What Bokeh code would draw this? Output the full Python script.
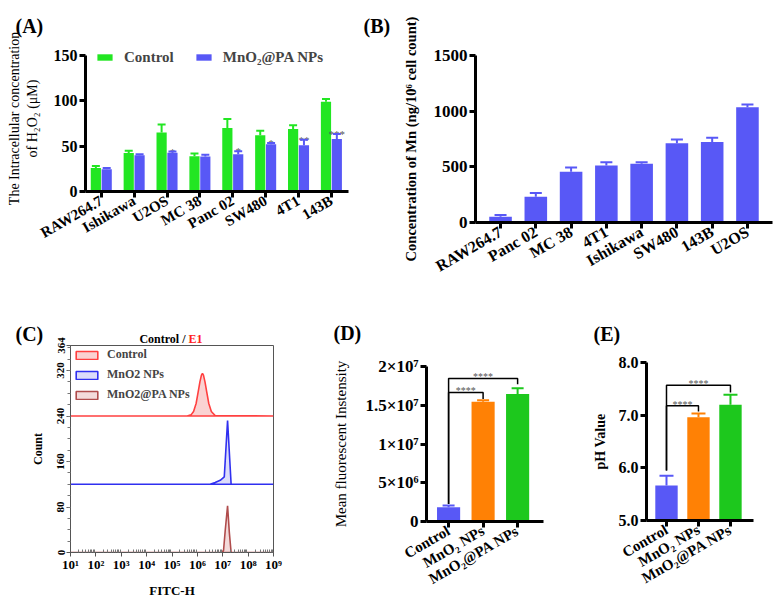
import numpy as np
from bokeh.plotting import figure
from bokeh.layouts import row, column
from bokeh.models import (Range1d, FixedTicker, Whisker, TeeHead, ColumnDataSource,
                          Legend, LegendItem, Label)
from bokeh.core.properties import value
from bokeh.embed import file_html
from bokeh.resources import INLINE

SERIF = "Liberation Serif"

# ---------------- data ----------------
# (A) intracellular H2O2
a_cells = ["RAW264.7", "Ishikawa", "U2OS", "MC 38", "Panc 02", "SW480", "4T1", "143B"]
a_ctrl = [26, 42.5, 65, 39, 70, 62, 69, 99]
a_ctrl_err = [28, 45, 74, 42, 80, 67, 73, 102]
a_np = [24.6, 40, 42.6, 38.5, 41, 52, 51, 58]
a_np_err = [26, 41, 44, 40.5, 44.5, 53.5, 57, 63.5]
a_sig = ["", "", "*", "", "*", "*", "**", "***"]
a_yticks = [0, 50, 100, 150]

# (B) Mn uptake
b_cells = ["RAW264.7", "Panc 02", "MC 38", "4T1", "Ishikawa", "SW480", "143B", "U2OS"]
b_mn = [51, 231, 456, 512, 527, 711, 723, 1035]
b_mn_err = [68, 264, 495, 542, 542, 745, 762, 1060]
b_yticks = [0, 500, 1000, 1500]

# (C) flow cytometry histograms (log10 of FITC-H, count)
c_ctrl_exp = [1, 5.6, 5.75, 5.85, 5.95, 6.03, 6.1, 6.16, 6.2, 6.24, 6.3, 6.37, 6.45, 6.55, 6.7, 9]
c_ctrl_cnt = [240, 240, 242, 248, 262, 282, 300, 312, 315, 312, 300, 282, 262, 248, 241, 240]
c_np_exp = [1, 6.5, 6.7, 6.9, 7.06, 7.19, 7.33, 9]
c_np_cnt = [120, 120, 123, 127, 133, 232, 120, 120]
c_pa_exp = [1, 6.92, 7.03, 7.1, 7.19, 7.26, 7.33, 9]
c_pa_cnt = [0, 0, 3, 40, 82, 35, 0, 0]
c_names = ["Control", "MnO2 NPs", "MnO2@PA NPs"]
c_yticks = [0, 80, 160, 240, 320, 364]
c_decades = [1, 2, 3, 4, 5, 6, 7, 8, 9]
c_dec_labels = ["10¹", "10²", "10³", "10⁴", "10⁵", "10⁶", "10⁷", "10⁸", "10⁹"]

# (D) mean fluorescent intensity
d_groups = ["Control", "MnO₂ NPs", "MnO₂@PA NPs"]
d_mean = [1.85e6, 1.545e7, 1.644e7]
d_err = [2.06e6, 1.566e7, 1.72e7]
d_yticks = [0, 5000000, 10000000, 15000000, 20000000]
d_ylabels = ["0", "5×10⁶", "1×10⁷", "1.5×10⁷", "2×10⁷"]
d_brk_to = [1, 2]
d_brk_top = [1.665e7, 1.845e7]
d_brk_end = [1.58e7, 1.77e7]
d_brk_start = 2.25e6

# (E) pH value
e_groups = ["Control", "MnO₂ NPs", "MnO₂@PA NPs"]
e_mean = [5.663, 6.96, 7.2]
e_err = [5.85, 7.03, 7.39]
e_yticks = [5, 6, 7, 8]
e_brk_to = [1, 2]
e_brk_top = [7.18, 7.57]
e_brk_end = [7.07, 7.43]
e_brk_start = 5.95

GREEN = "#22E622"
BLUE = "#5858F6"
ORANGE = "#FF8105"
GREEN2 = "#1DC81D"


def base_fig(width, height, xr, yr, mb, **kw):
    p = figure(width=width, height=height, x_range=Range1d(*xr), y_range=Range1d(*yr),
               output_backend="svg", toolbar_location=None, frame_align=False,
               min_border_left=mb[0], min_border_right=mb[1],
               min_border_top=mb[2], min_border_bottom=mb[3], **kw)
    p.grid.visible = False
    p.outline_line_color = None
    p.background_fill_color = "white"
    p.border_fill_color = "white"
    return p


def bar_axes(p, xfs, yfs):
    for ax in p.axis:
        ax.axis_line_width = 3
        ax.axis_line_color = "black"
        ax.major_tick_line_width = 3
        ax.major_tick_line_color = "black"
        ax.major_tick_out = 6
        ax.major_tick_in = 0
        ax.minor_tick_line_color = None
        ax.major_label_text_font = SERIF
        ax.major_label_text_font_style = "bold"
        ax.major_label_text_color = "black"
        ax.major_label_standoff = 2
        ax.axis_label_text_font = SERIF
        ax.axis_label_text_color = "black"
    p.xaxis.major_label_text_font_size = xfs
    p.yaxis.major_label_text_font_size = yfs
    p.xaxis.major_label_orientation = np.pi / 6


def ylabel(p, text, size, bold, standoff):
    p.yaxis.axis_label = text
    p.yaxis.axis_label_text_font = SERIF
    p.yaxis.axis_label_text_font_size = size
    p.yaxis.axis_label_text_font_style = "bold" if bold else "normal"
    p.yaxis.axis_label_standoff = standoff


def tag(p, x, y, text, size, align="left", color="black"):
    """free text in data coordinates, kept in the top side panel so it is not clipped"""
    p.add_layout(Label(x=x, y=y, text=text, text_font=SERIF, text_font_size=size,
                       text_font_style="bold", text_align=align, text_baseline="middle",
                       text_color=color), "above")


def whisk(p, xs, lo, hi, color, size):
    src = ColumnDataSource(dict(x=list(xs), lo=lo, hi=hi))
    w = Whisker(source=src, base="x", lower="lo", upper="hi", dimension="height",
                line_color=color, line_width=2,
                upper_head=TeeHead(size=size, line_color=color, line_width=2),
                lower_head=None, level="overlay")
    p.add_layout(w)


# ---------------- (A) ----------------
pA = base_fig(360, 290, (-0.48, 7.52), (0, 161), (85, 12, 45, 99))
ia = np.arange(len(a_cells))
xg = ia - 0.165
xb = ia + 0.165
rg = pA.vbar(x=xg, top=a_ctrl, width=0.31, bottom=0, fill_color=GREEN, line_color=None)
rb = pA.vbar(x=xb, top=a_np, width=0.31, bottom=0, fill_color=BLUE, line_color=None)
whisk(pA, xg, a_ctrl, a_ctrl_err, GREEN, 8)
whisk(pA, xb, a_np, a_np_err, BLUE, 8)
pA.text(x=xb, y=a_np_err, text=a_sig, text_font=value(SERIF), text_font_size="11px",
        text_color="#555555", text_align="center", text_baseline="alphabetic")
bar_axes(pA, "15px", "16px")
pA.yaxis.bounds = (0, 150)
pA.xaxis.ticker = FixedTicker(ticks=list(ia))
pA.xaxis.major_label_overrides = {int(i): c for i, c in zip(ia, a_cells)}
pA.yaxis.ticker = FixedTicker(ticks=a_yticks)
ylabel(pA, "The Intracellular concentration\nof H₂O₂ (μM)", "14px", False, 11)
legA = Legend(items=[LegendItem(label="Control", renderers=[rg]),
                     LegendItem(label="MnO₂@PA NPs", renderers=[rb])],
              orientation="horizontal", location=(10, 125), glyph_width=19, glyph_height=8,
              label_standoff=10, label_height=18, spacing=20, padding=0, margin=0,
              border_line_color=None, background_fill_alpha=0,
              label_text_font=SERIF, label_text_font_style="bold", label_text_font_size="15px")
pA.add_layout(legA)
tag(pA, -2.61, 182.5, "(A)", "20px")

# ---------------- (B) ----------------
pB = base_fig(415, 290, (-0.71, 7.71), (0, 1500), (115, 3, 55, 68))
ib = np.arange(len(b_cells))
pB.vbar(x=ib, top=b_mn, width=0.64, bottom=0, fill_color=BLUE, line_color=None)
whisk(pB, ib, b_mn, b_mn_err, BLUE, 12)
bar_axes(pB, "16px", "17px")
pB.xaxis.ticker = FixedTicker(ticks=list(ib))
pB.xaxis.major_label_overrides = {int(i): c for i, c in zip(ib, b_cells)}
pB.yaxis.ticker = FixedTicker(ticks=b_yticks)
ylabel(pB, "Concentration of Mn (ng/10⁶ cell count)", "14.5px", True, 12)
tag(pB, -3.885, 1765, "(B)", "20px")

# ---------------- (C) ----------------
pC = base_fig(292, 314, (10, 1e9), (0, 364), (70, 19, 55, 52), x_axis_type="log")
pC.outline_line_color = "#555555"
pC.outline_line_width = 1
c_styles = [("#FF4040", "#FAD2D2"), ("#3030F0", "#DCDCFA"), ("#B04C4C", "#F3DADA")]
c_curves = [(c_ctrl_exp, c_ctrl_cnt), (c_np_exp, c_np_cnt), (c_pa_exp, c_pa_cnt)]
c_items = []
for (ex, cn), (lc, fc), nm in zip(c_curves, c_styles, c_names):
    r = pC.patch(x=10 ** np.array(ex, dtype=float), y=cn, fill_color=fc, line_color=lc,
                 line_width=1.6)
    c_items.append(LegendItem(label=nm, renderers=[r]))
legC = Legend(items=c_items, location=(3, 150), glyph_width=27, glyph_height=10,
              label_standoff=7, label_height=14, spacing=5, padding=0, margin=0,
              border_line_color=None, background_fill_alpha=0, label_text_font=SERIF,
              label_text_font_style="bold", label_text_font_size="12px")
pC.add_layout(legC)
for ax in pC.axis:
    ax.axis_line_color = "#555555"
    ax.axis_line_width = 1
    ax.major_tick_line_color = "#555555"
    ax.minor_tick_line_color = "#777777"
    ax.major_tick_out = 4
    ax.major_tick_in = 0
    ax.major_label_text_font = SERIF
    ax.major_label_text_font_style = "bold"
    ax.major_label_text_color = "black"
    ax.axis_label_text_font = SERIF
    ax.axis_label_text_font_style = "bold"
    ax.axis_label_text_color = "black"
pC.xaxis.minor_tick_in = 3
pC.xaxis.minor_tick_out = 0
pC.yaxis.minor_tick_in = 0
pC.yaxis.minor_tick_out = 3
c_minor_x = [m * 10 ** k for k in range(1, 9) for m in range(2, 10)]
pC.xaxis.ticker = FixedTicker(ticks=[10 ** d for d in c_decades], minor_ticks=c_minor_x)
pC.xaxis.major_label_overrides = {10 ** d: s for d, s in zip(c_decades, c_dec_labels)}
pC.xaxis.major_label_text_font_size = "13px"
pC.xaxis.major_label_standoff = 0
pC.xaxis.axis_label = "FITC-H"
pC.xaxis.axis_label_text_font_size = "13px"
pC.xaxis.axis_label_standoff = 8
pC.yaxis.ticker = FixedTicker(ticks=c_yticks, minor_ticks=list(range(20, 364, 20)))
pC.yaxis.major_label_orientation = "vertical"
pC.yaxis.major_label_text_font_size = "11px"
pC.yaxis.major_label_standoff = 2
pC.yaxis.axis_label = "Count"
pC.yaxis.axis_label_text_font_size = "12px"
pC.yaxis.axis_label_standoff = 10
tag(pC, 10 ** -1.1675, 385.1, "(C)", "20px")
tag(pC, 10 ** 5.532, 374.6, "Control /", "12px", align="right")
tag(pC, 10 ** 5.650, 374.6, "E1", "12px", color="#FF2020")


def brackets(p, ends, tops, bends, start, star_dy):
    xs, ys = [], []
    for e, t, b in zip(ends, tops, bends):
        xs.append([0, 0, e, e])
        ys.append([start, t, t, b])
    p.multi_line(xs=xs, ys=ys, line_color="black", line_width=1.5)
    p.text(x=[e / 2 for e in ends], y=[t + star_dy for t in tops], text=["****"] * len(ends),
           text_font=value(SERIF), text_font_size="10px", text_color="#555555",
           text_align="center", text_baseline="alphabetic")


# ---------------- (D) ----------------
pD = base_fig(260, 314, (-0.64, 2.75), (0, 2e7), (134, 9, 76, 83))
idd = np.arange(len(d_groups))
d_cols = [BLUE, ORANGE, GREEN2]
pD.vbar(x=idd, top=d_mean, width=0.67, bottom=0, fill_color=d_cols, line_color=None)
for i in range(len(d_groups)):
    whisk(pD, [int(idd[i])], [d_mean[i]], [d_err[i]], d_cols[i], 12)
brackets(pD, d_brk_to, d_brk_top, d_brk_end, d_brk_start, 2e5)
bar_axes(pD, "15px", "17px")
pD.xaxis.ticker = FixedTicker(ticks=list(idd))
pD.xaxis.major_label_overrides = {int(i): g for i, g in zip(idd, d_groups)}
pD.yaxis.ticker = FixedTicker(ticks=d_yticks)
pD.yaxis.major_label_overrides = {t: s for t, s in zip(d_yticks, d_ylabels)}
ylabel(pD, "Mean fluorescent Instensity", "15px", False, 13)
tag(pD, -3.335, 2.4387e7, "(D)", "20px")

# ---------------- (E) ----------------
pE = base_fig(223, 314, (-0.625, 2.72), (5, 8), (94, 22, 72, 84))
ie = np.arange(len(e_groups))
pE.vbar(x=ie, top=e_mean, width=0.7, bottom=5, fill_color=d_cols, line_color=None)
for i in range(len(e_groups)):
    whisk(pE, [int(ie[i])], [e_mean[i]], [e_err[i]], d_cols[i], 14)
brackets(pE, e_brk_to, e_brk_top, e_brk_end, e_brk_start, 0.03)
bar_axes(pE, "15px", "16px")
pE.xaxis.ticker = FixedTicker(ticks=list(ie))
pE.xaxis.major_label_overrides = {int(i): g for i, g in zip(ie, e_groups)}
pE.yaxis.ticker = FixedTicker(ticks=e_yticks)
pE.yaxis.major_label_overrides = {t: f"{t:.1f}" for t in e_yticks}
ylabel(pE, "pH Value", "14px", True, 8)
tag(pE, -2.282, 8.55, "(E)", "20px")

layout = column(row(pA, pB), row(pC, pD, pE))
open("out.html", "w").write(file_html(layout, INLINE))
